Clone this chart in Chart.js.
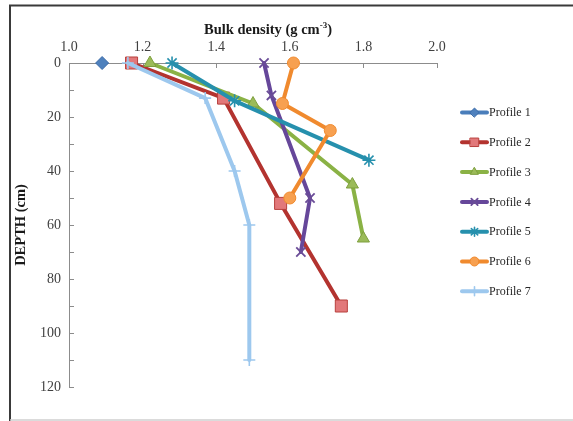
<!DOCTYPE html>
<html>
<head>
<meta charset="utf-8">
<script src="https://cdn.jsdelivr.net/npm/chart.js@4"></script>
<style>
  html, body { margin: 0; padding: 0; background: #fff; }
  #wrap { position: relative; width: 573px; height: 421px; }
</style>
</head>
<body>
<div id="wrap"><canvas id="c"></canvas></div>
<script>
// Bulk density (g cm-3) against depth (cm) for seven soil profiles
const profileNames = ['Profile 1', 'Profile 2', 'Profile 3', 'Profile 4', 'Profile 5', 'Profile 6', 'Profile 7'];

const profile1Density = [1.09];
const profile1Depth   = [0];
const profile2Density = [1.17, 1.42, 1.575, 1.74];
const profile2Depth   = [0, 13, 52, 90];
const profile3Density = [1.22, 1.50, 1.77, 1.80];
const profile3Depth   = [0, 15, 45, 65];
const profile4Density = [1.53, 1.55, 1.655, 1.63];
const profile4Depth   = [0, 12, 50, 70];
const profile5Density = [1.28, 1.45, 1.815];
const profile5Depth   = [0, 14, 36];
const profile6Density = [1.61, 1.58, 1.71, 1.60];
const profile6Depth   = [0, 15, 25, 50];
const profile7Density = [1.16, 1.37, 1.45, 1.49, 1.49];
const profile7Depth   = [0, 13, 40, 60, 110];

const densityTicks = [1.0, 1.2, 1.4, 1.6, 1.8, 2.0];
const depthTicks   = [0, 20, 40, 60, 80, 100, 120];

const densities = [profile1Density, profile2Density, profile3Density, profile4Density, profile5Density, profile6Density, profile7Density];
const depths    = [profile1Depth, profile2Depth, profile3Depth, profile4Depth, profile5Depth, profile6Depth, profile7Depth];

const styles = [
  { line: '#4A7EBB', fill: '#4F81BD', edge: '#3A6AA8', point: 'rectRot',  r: 6.5, lr: 4.5, bw: 1 },
  { line: '#B3332F', fill: '#E2787A', edge: '#B8403D', point: 'rect',     r: 8.5, lr: 6,   bw: 1 },
  { line: '#8AB245', fill: '#9BBB59', edge: '#7E9F3E', point: 'triangle', r: 7,   lr: 4.5, bw: 1 },
  { line: '#66479A', fill: '#7D60A0', edge: '#6A4C97', point: 'crossRot', r: 6.5, lr: 4.5, bw: 1.8 },
  { line: '#2690AD', fill: '#4BACC6', edge: '#2690AD', point: 'star',     r: 6.5, lr: 4.5, bw: 1.6 },
  { line: '#F08A2E', fill: '#F7A050', edge: '#F08A2E', point: 'circle',   r: 6,   lr: 4.5, bw: 1 },
  { line: '#9DC8EE', fill: '#9DC8EE', edge: '#9DC8EE', point: 'cross',    r: 6,   lr: 4.5, bw: 1.6 }
];

const datasets = profileNames.map((name, i) => ({
  label: name,
  data: densities[i].map((d, k) => ({ x: d, y: depths[i][k] })),
  showLine: true,
  clip: false,
  borderColor: styles[i].line,
  borderWidth: 4,
  pointStyle: styles[i].point,
  pointRadius: styles[i].r,
  pointBackgroundColor: styles[i].fill,
  pointBorderColor: styles[i].edge,
  pointBorderWidth: styles[i].bw,
  pointHoverRadius: styles[i].r,
  legendRadius: styles[i].lr,
  order: profileNames.length - i
}));

const serif = '"Liberation Serif", "Times New Roman", serif';

// Outer frame of the figure
const framePlugin = {
  id: 'frame',
  beforeDraw(chart) {
    const ctx = chart.ctx;
    ctx.save();
    ctx.strokeStyle = '#3a3a3a';
    ctx.lineWidth = 2;
    ctx.beginPath();
    ctx.moveTo(10, 421); ctx.lineTo(10, 5.5); ctx.lineTo(573, 5.5);
    ctx.stroke();
    ctx.strokeStyle = '#cfcfcf';
    ctx.lineWidth = 1.5;
    ctx.beginPath();
    ctx.moveTo(10, 420); ctx.lineTo(573, 420);
    ctx.stroke();
    ctx.restore();
  }
};

// Tick marks pointing into the plot area, and the top axis title
const axisPlugin = {
  id: 'axisMarks',
  beforeDatasetsDraw(chart) {
    const ctx = chart.ctx;
    const xs = chart.scales.x, ys = chart.scales.y, a = chart.chartArea;
    ctx.save();
    ctx.strokeStyle = '#8c8c8c';
    ctx.lineWidth = 1;
    ctx.beginPath();
    densityTicks.forEach(v => {
      const px = Math.round(xs.getPixelForValue(v)) + 0.5;
      ctx.moveTo(px, a.top); ctx.lineTo(px, a.top + 5);
    });
    for (let d = 0; d <= 120; d += 10) {
      const py = Math.round(ys.getPixelForValue(d)) + 0.5;
      ctx.moveTo(a.left, py); ctx.lineTo(a.left + 5, py);
    }
    ctx.stroke();

    // "Bulk density (g cm-3)" with superscript exponent
    ctx.fillStyle = '#1a1a1a';
    ctx.textBaseline = 'alphabetic';
    const main = 'Bulk density (g cm';
    const sup = '-3';
    const tail = ')';
    ctx.font = 'bold 14.5px ' + serif;
    const w1 = ctx.measureText(main).width;
    const w3 = ctx.measureText(tail).width;
    ctx.font = 'bold 9px ' + serif;
    const w2 = ctx.measureText(sup).width;
    const total = w1 + w2 + w3;
    const x0 = 268 - total / 2;
    const base = 34;
    ctx.font = 'bold 14.5px ' + serif;
    ctx.fillText(main, x0, base);
    ctx.font = 'bold 9px ' + serif;
    ctx.fillText(sup, x0 + w1, base - 6);
    ctx.font = 'bold 14.5px ' + serif;
    ctx.fillText(tail, x0 + w1 + w2, base);
    ctx.restore();
  }
};

// Legend on the right: line sample with marker, then the name
const legendPlugin = {
  id: 'sideLegend',
  afterDraw(chart) {
    const ctx = chart.ctx;
    ctx.save();
    chart.data.datasets.forEach((ds, i) => {
      const y = 112.5 + i * 29.8;
      ctx.strokeStyle = ds.borderColor;
      ctx.lineWidth = 4;
      ctx.lineCap = 'round';
      ctx.beginPath();
      ctx.moveTo(462, y); ctx.lineTo(487, y);
      ctx.stroke();
      ctx.fillStyle = ds.pointBackgroundColor;
      ctx.strokeStyle = ds.pointBorderColor;
      ctx.lineWidth = ds.pointBorderWidth;
      Chart.helpers.drawPoint(ctx, { pointStyle: ds.pointStyle, radius: ds.legendRadius, borderWidth: ds.pointBorderWidth, rotation: 0 }, 474.5, y);
      ctx.fillStyle = '#262626';
      ctx.font = '12px ' + serif;
      ctx.textBaseline = 'middle';
      ctx.textAlign = 'left';
      ctx.fillText(ds.label, 489, y + 0.5);
    });
    ctx.restore();
  }
};

new Chart(document.getElementById('c'), {
  type: 'scatter',
  data: { datasets },
  options: {
    responsive: true,
    maintainAspectRatio: false,
    devicePixelRatio: 1,
    animation: false,
    events: [],
    layout: { padding: { left: 10, top: 18, right: 136, bottom: 34 } },
    plugins: { legend: { display: false }, tooltip: { enabled: false } },
    elements: { line: { tension: 0, borderCapStyle: 'round', borderJoinStyle: 'round' } },
    scales: {
      x: {
        type: 'linear',
        position: 'top',
        min: 1.0,
        max: 2.0,
        afterFit(scale) { scale.height = 45; },
        afterBuildTicks(scale) { scale.ticks = densityTicks.map(v => ({ value: v })); },
        ticks: {
          callback: v => Number(v).toFixed(1),
          color: '#404040',
          font: { family: serif, size: 14 },
          padding: 7,
          maxRotation: 0
        },
        grid: { display: true, drawOnChartArea: false, drawTicks: false },
        border: { display: true, color: '#8c8c8c', width: 1 }
      },
      y: {
        type: 'linear',
        reverse: true,
        min: 0,
        max: 120,
        afterFit(scale) { scale.width = 59; },
        afterBuildTicks(scale) { scale.ticks = depthTicks.map(v => ({ value: v })); },
        ticks: {
          color: '#404040',
          font: { family: serif, size: 14 },
          padding: 8
        },
        grid: { display: true, drawOnChartArea: false, drawTicks: false },
        border: { display: true, color: '#8c8c8c', width: 1 },
        title: {
          display: true,
          text: 'DEPTH (cm)',
          color: '#1a1a1a',
          font: { family: serif, size: 14.5, weight: 'bold' },
          padding: { top: 3, bottom: 0 }
        }
      }
    }
  },
  plugins: [framePlugin, axisPlugin, legendPlugin]
});
</script>
</body>
</html>
